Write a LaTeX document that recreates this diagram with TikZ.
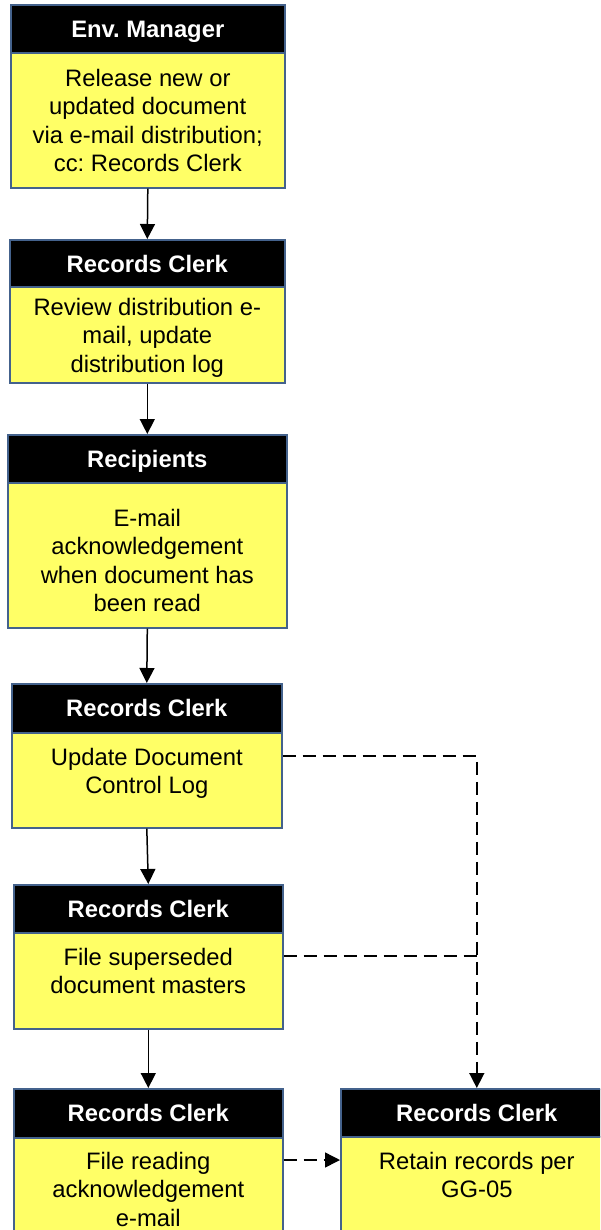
\documentclass[tikz,border=0pt]{standalone}
\usepackage{fontspec}
\setmainfont{Liberation Sans}
\usetikzlibrary{arrows.meta,calc}
\frenchspacing
\definecolor{edge}{RGB}{68,98,140}
\definecolor{boxyellow}{RGB}{255,255,102}
\tikzset{
  hdr/.style={rectangle, draw=edge, line width=1.6pt, fill=black, text=white,
    font=\bfseries\fontsize{23.8}{26}\selectfont, inner sep=0pt,
    text height=16.5pt, text depth=0pt, anchor=north west, minimum height=48pt},
  bdy/.style={rectangle, draw=edge, line width=1.6pt, fill=boxyellow,
    inner sep=0pt, anchor=north west},
  txt/.style={align=center, font=\fontsize{23.8}{28.5}\selectfont,
    anchor=north, inner sep=0pt},
  arr/.style={line width=1.5pt, -{Triangle[length=15pt,width=15pt]}},
  dsh/.style={line width=1.5pt, dash pattern=on 13pt off 7pt},
}
\begin{document}
\begin{tikzpicture}[x=1pt,y=-1pt]
\useasboundingbox (0,0) rectangle (600,1230);
\clip (0,0) rectangle (600,1230);

% Env. Manager
\node[hdr, minimum width=274pt] (h1) at (10,4) {Env. Manager};
\node[bdy, minimum width=274pt, minimum height=135pt] (b1) at (10,52) {};
\node[txt] (t1) at ([yshift=-17pt]b1.north) {Release new or\\updated document\\via e-mail distribution;\\cc: Records Clerk};

% Records Clerk: distribution log
\node[hdr, minimum width=275pt] (h2) at (9,239) {Records Clerk};
\node[bdy, minimum width=275pt, minimum height=96pt] (b2) at (9,286) {};
\node[txt] (t2) at ([yshift=-12pt]b2.north) {Review distribution e-\\mail, update\\distribution log};

% Recipients
\node[hdr, minimum width=279pt] (h3) at (7,434) {Recipients};
\node[bdy, minimum width=279pt, minimum height=145pt] (b3) at (7,482) {};
\node[txt] (t3) at ([yshift=-27pt]b3.north) {E-mail\\acknowledgement\\when document has\\been read};

% Records Clerk: control log
\node[hdr, minimum width=270pt, minimum height=49pt] (h4) at (11,683) {Records Clerk};
\node[bdy, minimum width=270pt, minimum height=95pt] (b4) at (11,732) {};
\node[txt] (t4) at ([yshift=-16pt]b4.north) {Update Document\\Control Log};

% Records Clerk: superseded masters
\node[hdr, minimum width=269pt] (h5) at (13,884) {Records Clerk};
\node[bdy, minimum width=269pt, minimum height=96pt] (b5) at (13,932) {};
\node[txt] (t5) at ([yshift=-16pt]b5.north) {File superseded\\document masters};

% Records Clerk: reading acknowledgement
\node[hdr, minimum width=269pt, minimum height=49pt] (h6) at (13,1088) {Records Clerk};
\node[bdy, minimum width=269pt, minimum height=110pt] (b6) at (13,1137) {};
\node[txt] (t6) at ([yshift=-15pt]b6.north) {File reading\\acknowledgement\\e-mail};

% Records Clerk: retention
\node[hdr, minimum width=272pt] (h7) at (340,1088) {Records Clerk};
\node[bdy, minimum width=272pt, minimum height=110pt] (b7) at (340,1136) {};
\node[txt] (t7) at ([yshift=-16pt]b7.north) {Retain records per\\GG-05};

% main flow
\draw[arr] (b1.south) -- (h2.north);
\draw[arr] (b2.south) -- (h3.north);
\draw[arr] (b3.south) -- (h4.north);
\draw[arr] (b4.south) -- (h5.north);
\draw[arr] (b5.south) -- (h6.north);

% records to retention
\coordinate (r4) at ([yshift=-24pt]b4.north east);
\coordinate (r5) at ([yshift=-24pt]b5.north east);
\draw[dsh, arr] (r4) -| (h7.north);
\draw[dsh] (r5) -- (r5 -| h7.north);
\draw[dsh, arr] ([yshift=-23pt]b6.north east) -- ([yshift=-24pt]b7.north west);
\end{tikzpicture}
\end{document}
